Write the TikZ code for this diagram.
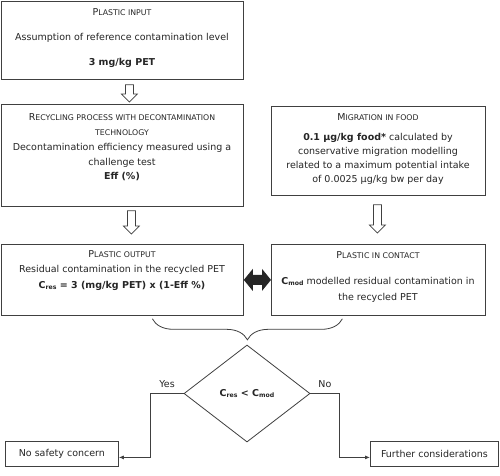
\documentclass[tikz,border=0pt]{standalone}
\usepackage{fontspec}
\setmainfont{DejaVu Sans}
\usetikzlibrary{calc,arrows.meta,shapes.geometric,decorations.pathreplacing}
\definecolor{linecol}{HTML}{404040}
\definecolor{txtcol}{HTML}{262626}
\newcommand\scsz{\fontsize{7.8}{8}\selectfont}
\newcommand\mysc[2]{#1{\scsz #2}}
\newcommand\subsc[1]{\raisebox{-0.6pt}{\fontsize{6.2}{6}\selectfont #1}}
\newcommand\hollowdown[2]{\draw[hol] let \p1=(#1), \p2=(#2) in
  (\x1-4pt,\y1) -- (\x1+4pt,\y1) -- (\x1+4pt,\y2+8pt) -- (\x1+8pt,\y2+8pt) -- (\x1,\y2)
  -- (\x1-8pt,\y2+8pt) -- (\x1-4pt,\y2+8pt) -- cycle;}
\begin{document}
\begin{tikzpicture}[x=1pt,y=-1pt,
  box/.style={draw=linecol, line width=0.8pt, inner sep=0pt, anchor=north west, text=txtcol},
  txt/.style={inner sep=0pt, align=center, text=txtcol},
  hol/.style={draw=linecol, line width=0.7pt, fill=white},
  conn/.style={draw=linecol, line width=0.8pt, -{Latex[length=5pt,width=4pt]}},
  lbl/.style={text=txtcol, font=\fontsize{9.5}{12}\selectfont, inner sep=0pt}]
\useasboundingbox (0,0) rectangle (500,475);
\fill[white] (0,0) rectangle (500,475);

% boxes
\node[box, minimum width=242pt, minimum height=78pt] (pin) at (1,1) {};
\node[box, minimum width=242pt, minimum height=102pt] (rec) at (1,104) {};
\node[box, minimum width=214pt, minimum height=89pt] (mig) at (271,106) {};
\node[box, minimum width=242pt, minimum height=71pt] (out) at (1,244) {};
\node[box, minimum width=214pt, minimum height=71pt] (con) at (271,244) {};
\node[box, minimum width=113pt, minimum height=25pt, font=\fontsize{9.5}{12}\selectfont] (nos) at (5,441) {No safety concern};
\node[box, minimum width=128pt, minimum height=25pt, font=\fontsize{9.5}{12}\selectfont] (fur) at (370,441) {Further considerations};

% texts
\node[txt, font=\fontsize{9.5}{12}\selectfont] (pint) at (122,38.5)
  {\mysc{P}{LASTIC INPUT}\\[13pt] Assumption of reference contamination level\\[13pt] \textbf{3 mg/kg PET}};
\node[txt, font=\fontsize{9.5}{14.8}\selectfont] (rect) at (122,147.5)
  {\mysc{R}{ECYCLING PROCESS WITH DECONTAMINATION}\\ {\scsz TECHNOLOGY}\\
   Decontamination efficiency measured using a\\ challenge test\\ \textbf{Eff (\%)}};
\node[txt, font=\fontsize{9.5}{14}\selectfont] (migt) at (378,149)
  {\mysc{M}{IGRATION IN FOOD}\\[6pt] \textbf{0.1 µg/kg food*} calculated by\\
   conservative migration modelling\\ related to a maximum potential intake\\ of 0.0025 µg/kg bw per day};
\node[txt, font=\fontsize{9.5}{15.5}\selectfont] (outt) at (122,270.5)
  {\mysc{P}{LASTIC OUTPUT}\\ Residual contamination in the recycled PET\\
   \textbf{C\subsc{res} = 3 (mg/kg PET) x (1-Eff \%)}};
\node[txt, font=\fontsize{9.5}{16}\selectfont] (cont) at (378,277)
  {\mysc{P}{LASTIC IN CONTACT}\\[10pt] \textbf{C\subsc{mod}} modelled residual contamination in\\ the recycled PET};

% diamond
\node[diamond, draw=linecol, line width=0.8pt, minimum width=126pt, minimum height=97pt,
  inner sep=0pt, text=txtcol, font=\fontsize{9.5}{12}\selectfont] (dia) at (247,393.5)
  {\textbf{C\subsc{res} < C\subsc{mod}}};

% hollow arrows
\coordinate (a1t) at ([xshift=7pt,yshift=-5pt]pin.south);
\coordinate (a1h) at ([xshift=7pt,yshift=2pt]rec.north);
\coordinate (a2t) at ([xshift=9pt,yshift=-4pt]rec.south);
\coordinate (a2h) at ([xshift=9pt,yshift=10pt]out.north);
\coordinate (a3t) at ([xshift=-1pt,yshift=-9pt]mig.south);
\coordinate (a3h) at ([xshift=-1pt,yshift=11pt]con.north);
\hollowdown{a1t}{a1h}
\hollowdown{a2t}{a2h}
\hollowdown{a3t}{a3h}

% double arrow
\fill[black!85] let \p1=(out.east), \p2=(con.west) in
  (\x1,\y1) -- (\x1+9pt,\y1+11pt) -- (\x1+9pt,\y1+5pt) -- (\x2-9pt,\y1+5pt) -- (\x2-9pt,\y1+11pt)
  -- (\x2,\y1) -- (\x2-9pt,\y1-11pt) -- (\x2-9pt,\y1-5pt) -- (\x1+9pt,\y1-5pt) -- (\x1+9pt,\y1-11pt) -- cycle;

% brace
\coordinate (bl) at ([xshift=30pt,yshift=-3pt]out.south);
\coordinate (br) at ([xshift=-36pt,yshift=-3pt]con.south);
\draw[linecol, line width=0.8pt, decorate, decoration={brace, mirror, amplitude=21pt}] (bl) -- (br);

% decision connectors
\draw[conn] (dia.west) -- node[lbl, above=5pt]{Yes} ++(-33,0) |- ([yshift=-3.5pt]nos.east);
\draw[conn] (dia.east) -- node[lbl, above=5pt]{No} ++(29,0) |- ([yshift=-3.5pt]fur.west);
\end{tikzpicture}
\end{document}
